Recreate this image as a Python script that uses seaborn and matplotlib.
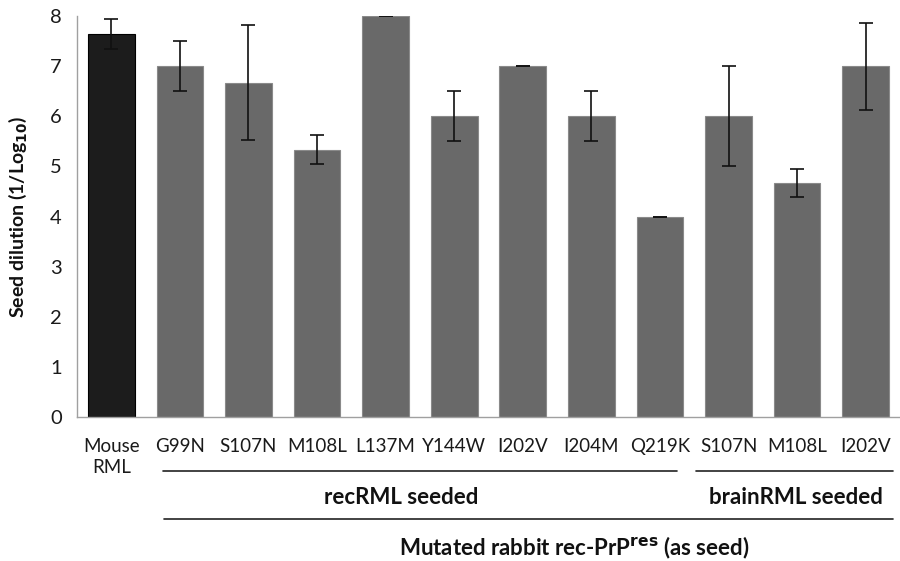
import matplotlib
matplotlib.use("Agg")
import matplotlib.pyplot as plt
import matplotlib.transforms as mtransforms
import seaborn as sns
import pandas as pd
import numpy as np

labels = ["Mouse\nRML", "G99N", "S107N", "M108L", "L137M", "Y144W", "I202V",
          "I204M", "Q219K", "S107N", "M108L", "I202V"]
values = [7.65, 7.0, 6.67, 5.33, 8.0, 6.0, 7.0, 6.0, 4.0, 6.0, 4.67, 7.0]
errors = [0.3, 0.5, 1.15, 0.29, 0.0, 0.5, 0.0, 0.5, 0.0, 1.0, 0.28, 0.87]
group = ["Mouse RML"] + ["recRML seeded"] * 8 + ["brainRML seeded"] * 3

sns.set_theme(style="white")
plt.rcParams['font.family'] = ['Lato', 'DejaVu Sans']

ids = [f"c{i}" for i in range(len(labels))]
df = pd.DataFrame({"id": ids, "value": values, "err": errors, "group": group})
colors = ["#1c1c1c"] + ["#696969"] * 11

fig = plt.figure(figsize=(9, 5.61), dpi=100)
ax = fig.add_axes([77/900, 1-417/561, 1-77/900, (417-16)/561])

sns.barplot(data=df, x="id", y="value", hue="id", palette=colors, legend=False,
            width=0.68, ax=ax, errorbar=None, saturation=1)
for i, p in enumerate(ax.patches):
    p.set_edgecolor("#000000" if i == 0 else "#8a8a8a")
    p.set_linewidth(0.8)

ax.errorbar(np.arange(len(values)), df["value"], yerr=df["err"], fmt="none",
            ecolor="#111111", elinewidth=1.2, capsize=5, capthick=1.2)

ax.set_xlim(-0.5, 11.42)
ax.set_ylim(0, 8)
ax.set_yticks(range(0, 9))
ax.set_xticks(range(len(labels)))
ax.set_xticklabels(labels, fontsize=13.5, color="#1a1a1a", linespacing=1.3)
ax.set_xticks(np.arange(-0.5, 11.6, 1.0), minor=True)
ax.tick_params(axis="x", which="major", length=0, pad=15)
ax.tick_params(axis="x", which="minor", length=6, color="#999999", width=1, direction="out")
ax.tick_params(axis="y", length=5, color="#999999", width=1, direction="out", labelsize=14.5,
               labelcolor="#1a1a1a", pad=6)
for s in ["top", "right"]:
    ax.spines[s].set_visible(False)
for s in ["left", "bottom"]:
    ax.spines[s].set_color("#a0a0a0")
    ax.spines[s].set_linewidth(1)
ax.set_xlabel("")
ax.set_ylabel("Seed dilution (1/Log$_\\mathbf{10}$)", fontsize=14, fontweight="bold",
              color="#111111")
ax.yaxis.set_label_coords(-0.058, 0.5)

trans = mtransforms.blended_transform_factory(ax.transData, ax.transAxes)
lines = [(0.75, 8.25, -0.135), (8.52, 11.4, -0.135), (0.77, 11.4, -0.254)]
for x0, x1, y in lines:
    ax.plot([x0, x1], [y, y], transform=trans, color="#222222", lw=1.2, clip_on=False)
ax.text(4.23, -0.2, "recRML seeded", transform=trans, ha="center", va="center",
        fontsize=16, fontweight="bold", color="#111111")
ax.text(9.98, -0.2, "brainRML seeded", transform=trans, ha="center", va="center",
        fontsize=16, fontweight="bold", color="#111111")
ax.text(6.75, -0.327, "Mutated rabbit rec-PrP$^{\\mathbf{res}}$ (as seed)", transform=trans,
        ha="center", va="center", fontsize=16, fontweight="bold", color="#111111")

fig.savefig("out.png", dpi=100)
